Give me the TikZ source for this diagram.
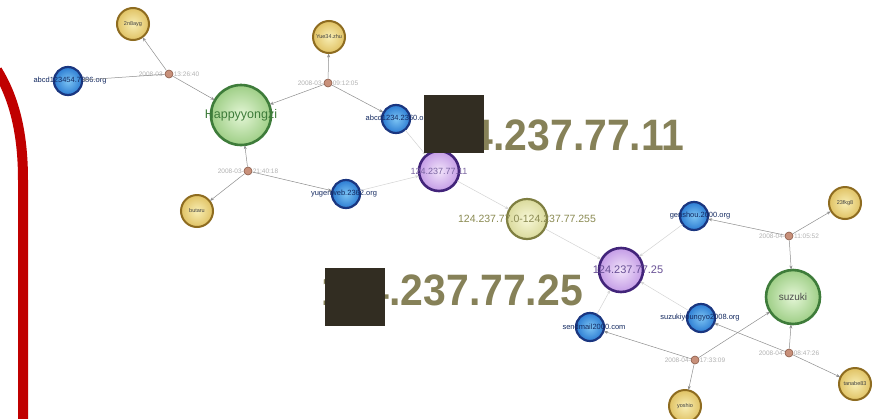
\documentclass[tikz,border=0pt]{standalone}
\usepackage{fontspec}
\setmainfont{Liberation Sans}
\usetikzlibrary{arrows.meta}
\definecolor{redbar}{HTML}{C00000}
\definecolor{bigtxt}{HTML}{868158}
\definecolor{boxc}{HTML}{322D22}
\definecolor{yelI}{HTML}{F8EEB4}
\definecolor{yelO}{HTML}{E0C264}
\definecolor{yelB}{HTML}{8E6C20}
\definecolor{bluI}{HTML}{7CC4F4}
\definecolor{bluO}{HTML}{2C7CD2}
\definecolor{bluB}{HTML}{1A3680}
\definecolor{grnI}{HTML}{E4F6D6}
\definecolor{grnO}{HTML}{9ECE86}
\definecolor{grnB}{HTML}{3E7C3A}
\definecolor{purI}{HTML}{F2E4FA}
\definecolor{purO}{HTML}{C49CE6}
\definecolor{purB}{HTML}{42247A}
\definecolor{ipI}{HTML}{F8F8D8}
\definecolor{ipO}{HTML}{DADA9C}
\definecolor{ipB}{HTML}{7E7E40}
\definecolor{hubF}{HTML}{C8907A}
\definecolor{hubB}{HTML}{8A5A48}
\definecolor{edgeC}{HTML}{8E8E8E}
\definecolor{faintC}{HTML}{D4D4D4}
\tikzset{
  ball/.style={circle, inner sep=0pt, outer sep=0.5pt},
  yel/.style={ball, minimum size=32pt, draw=yelB, line width=2pt, inner color=yelI, outer color=yelO},
  blu/.style={ball, minimum size=28pt, draw=bluB, line width=2.2pt, inner color=bluI, outer color=bluO},
  grn/.style={ball, draw=grnB, line width=2.6pt, inner color=grnI, outer color=grnO},
  pur/.style={ball, draw=purB, line width=2.6pt, inner color=purI, outer color=purO},
  ipn/.style={ball, minimum size=40pt, draw=ipB, line width=2.2pt, inner color=ipI, outer color=ipO},
  hub/.style={ball, minimum size=8pt, draw=hubB, line width=0.6pt, fill=hubF},
  tinytxt/.style={inner sep=0pt, font=\fontsize{#1}{#1}\selectfont},
  hubtxt/.style={inner sep=0pt, font=\fontsize{6.5}{6.5}\selectfont, text=gray!60},
  edge/.style={draw=edgeC, line width=0.5pt, -{Stealth[length=4pt,width=3pt]}},
  faint/.style={draw=faintC, line width=0.5pt, -{Stealth[length=4pt,width=3pt]}},
  bigip/.style={inner sep=0pt, anchor=base west, text=bigtxt, font=\fontsize{44}{44}\selectfont\bfseries},
}
\begin{document}
\begin{tikzpicture}[x=1pt,y=-1pt]
\useasboundingbox[fill=white] (0,0) rectangle (885,418);

% red frame edge
\draw[redbar, line width=10pt] (-3,70) .. controls (13,96) and (23,130) .. (23,180) -- (23,425);

% hub labels (behind hubs)
\node[hubtxt] (h1t) at (169,74) {2008-03-15 13:26:40};
\node[hubtxt] (h2t) at (328,83) {2008-03-16 09:12:05};
\node[hubtxt] (h3t) at (248,171) {2008-03-17 21:40:18};
\node[hubtxt] (h4t) at (789,236) {2008-04-02 11:05:52};
\node[hubtxt] (h5t) at (695,360) {2008-04-03 17:33:09};
\node[hubtxt] (h6t) at (789,353) {2008-04-05 08:47:26};

% hubs
\node[hub] (h1) at (169,74) {};
\node[hub] (h2) at (328,83) {};
\node[hub] (h3) at (248,171) {};
\node[hub] (h4) at (789,236) {};
\node[hub] (h5) at (695,360) {};
\node[hub] (h6) at (789,353) {};

% entity nodes
\node[yel] (y1) at (133,24) {};
\node[yel] (y2) at (329,37) {};
\node[yel] (y3) at (197,211) {};
\node[yel] (y5) at (845,203) {};
\node[yel] (y6) at (685,406) {};
\node[yel] (y7) at (855,384) {};
\node[blu] (b1) at (68,81) {};
\node[blu] (b2) at (396,119) {};
\node[blu] (b3) at (346,194) {};
\node[blu] (b4) at (694,216) {};
\node[blu] (b5) at (701,318) {};
\node[blu] (b6) at (590,327) {};
\node[grn, minimum size=60pt] (g1) at (241,115) {};
\node[grn, minimum size=54pt] (g2) at (793,297) {};
\node[pur, minimum size=40pt] (p1) at (439,171) {};
\node[pur, minimum size=44pt] (p2) at (621,270) {};
\node[ipn] (y4) at (527,219) {};

% node labels
\node[tinytxt=5.5, text=black!75] (y1t) at (y1) {2n8ayg};
\node[tinytxt=5.5, text=black!75] (y2t) at (y2) {Yue34.zhu};
\node[tinytxt=5.5, text=black!75] (y3t) at (y3) {butaru};
\node[tinytxt=5.5, text=black!75] (y5t) at (y5) {23fkg8};
\node[tinytxt=5.5, text=black!75] (y6t) at (y6) {yoshio};
\node[tinytxt=5.5, text=black!75] (y7t) at (y7) {tanabe83};
\node[tinytxt=7.5, text=bluB!75!black] (b1t) at (70,81) {abcd123454.7386.org};
\node[tinytxt=7.5, text=bluB!75!black] (b2t) at (398,119) {abcd1234.2360.org};
\node[tinytxt=7.5, text=bluB!75!black] (b3t) at (344,194) {yugenweb.2362.org};
\node[tinytxt=7.5, text=bluB!75!black] (b4t) at (700,216) {genshou.2000.org};
\node[tinytxt=7.5, text=bluB!75!black] (b5t) at (700,318) {suzukiyoungyo2008.org};
\node[tinytxt=7.5, text=bluB!75!black] (b6t) at (594,327) {sendmail2000.com};
\node[tinytxt=12.5, text=grnB] (g1t) at (g1) {Happyyongzi};
\node[tinytxt=10, text=black!70] (g2t) at (g2) {suzuki};
\node[tinytxt=9, text=purB!70] (p1t) at (p1) {124.237.77.11};
\node[tinytxt=11, text=purB!80] (p2t) at (628,270) {124.237.77.25};
\node[tinytxt=10.5, text=ipB!90] (y4t) at (527,219) {124.237.77.0-124.237.77.255};

% edges from hubs
\draw[edge] (h1) -- (y1);
\draw[edge] (h1) -- (b1);
\draw[edge] (h1) -- (g1);
\draw[edge] (h2) -- (y2);
\draw[edge] (h2) -- (g1);
\draw[edge] (h2) -- (b2);
\draw[edge] (h3) -- (g1);
\draw[edge] (h3) -- (y3);
\draw[edge] (h3) -- (b3);
\draw[edge] (h4) -- (b4);
\draw[edge] (h4) -- (y5);
\draw[edge] (h4) -- (g2);
\draw[edge] (h5) -- (b6);
\draw[edge] (h5) -- (g2);
\draw[edge] (h5) -- (y6);
\draw[edge] (h6) -- (g2);
\draw[edge] (h6) -- (b5);
\draw[edge] (h6) -- (y7);

% faint edges to IP nodes
\draw[faint] (b3) -- (p1);
\draw[faint] (b2) -- (p1);
\draw[faint] (p1) -- (y4);
\draw[faint] (y4) -- (p2);
\draw[faint] (b4) -- (p2);
\draw[faint] (b5) -- (p2);
\draw[faint] (b6) -- (p2);

% big IP captions with masking boxes
\node[bigip] (ip1) at (425,150) {\scalebox{0.93}[1]{124.237.77.11}};
\fill[boxc] (424,95) rectangle (484,153);
\node[bigip] (ip2) at (321,305) {\scalebox{0.93}[1]{124.237.77.25}};
\fill[boxc] (325,268) rectangle (385,326);
\end{tikzpicture}
\end{document}
